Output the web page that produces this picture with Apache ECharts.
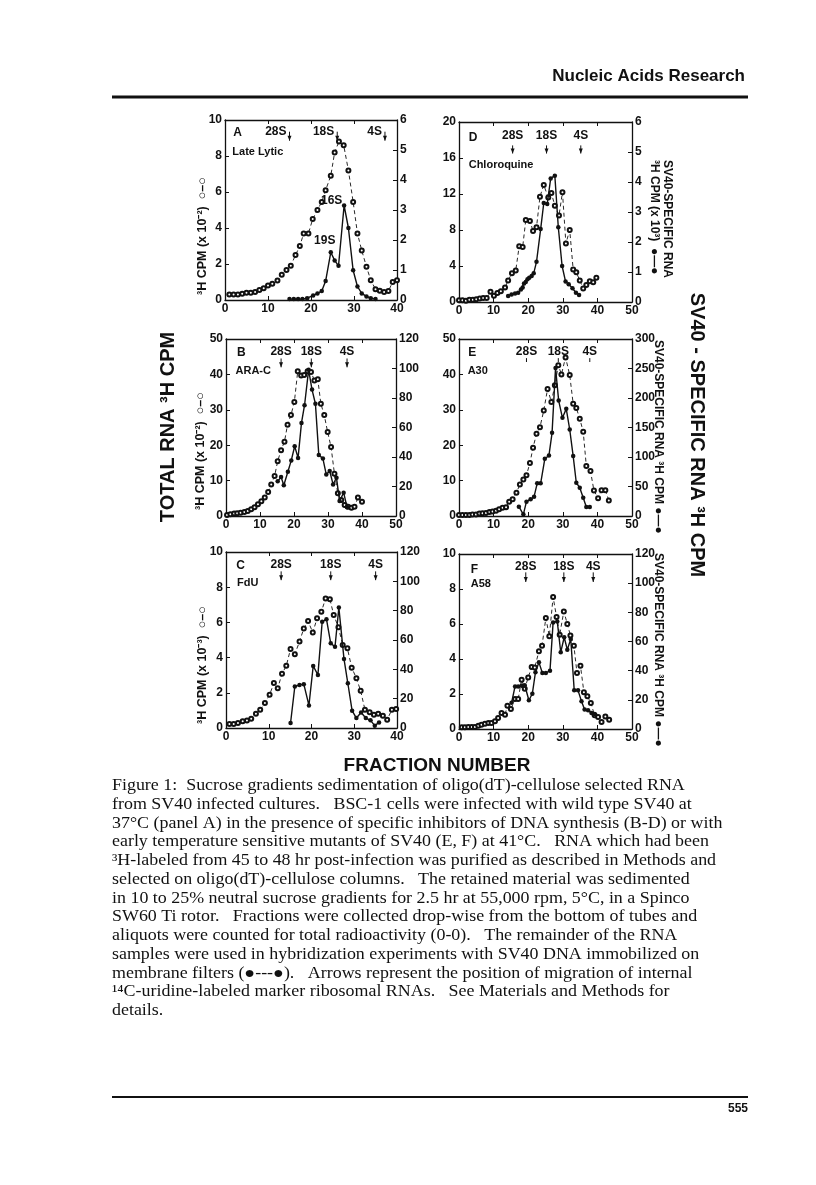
<!DOCTYPE html>
<html>
<head>
<meta charset="utf-8">
<title>Figure 1</title>
<script src="https://cdn.jsdelivr.net/npm/echarts@6/dist/echarts.min.js"></script>
<style>
  html, body { margin: 0; padding: 0; background: #fff; }
  #page { width: 816px; height: 1185px; }
</style>
</head>
<body>
<div id="page"></div>
<script>
var SANS = '"Liberation Sans", Arial, Helvetica, sans-serif';
var SERIF = '"Liberation Serif", "Times New Roman", serif';
var INK = '#111';

// ---- panel A : late lytic ----
var fracA_total = [1,2,3,4,5,6,7,8,9,10,11,12.2,13.2,14.3,15.3,16.4,17.4,18.3,19.4,20.4,21.5,22.5,23.4,24.6,25.5,26.5,27.6,28.7,29.8,30.8,31.8,32.9,33.9,35,36,37,38,39,40];
var cpmA_total  = [0.3,0.3,0.3,0.35,0.4,0.4,0.45,0.55,0.65,0.8,0.9,1.08,1.4,1.67,1.9,2.5,3.0,3.7,3.7,4.5,5.0,5.45,6.1,6.9,8.2,8.8,8.6,7.2,5.45,3.7,2.75,1.85,1.1,0.6,0.52,0.45,0.5,1.0,1.1];
var fracA_sv = [15,16,17,18,19.1,20.5,21.5,22.5,23.4,24.6,25.5,26.4,27.7,28.7,29.8,30.8,31.8,32.9,33.9,35];
var cpmA_sv  = [0.03,0.03,0.03,0.03,0.06,0.15,0.22,0.3,0.63,1.59,1.32,1.14,3.15,2.4,0.99,0.45,0.22,0.12,0.06,0.03];

// ---- panel D : chloroquine ----
var fracD_total = [0,1,2,3,4,5,6,7,8,9.1,10.1,11.1,12.1,13.3,14.2,15.3,16.4,17.4,18.4,19.3,20.5,21.4,22.4,23.4,24.5,25.8,26.7,27.7,28.9,29.9,30.9,32,33,33.9,34.9,35.9,36.8,37.8,38.8,39.7];
var cpmD_total  = [0.2,0.2,0.15,0.25,0.25,0.3,0.4,0.45,0.45,1.15,0.7,1.0,1.2,1.6,2.4,3.2,3.5,6.2,6.1,9.1,9.0,7.9,8.3,11.7,13.0,11.6,12.1,10.7,9.6,12.2,6.5,8.0,3.6,3.3,2.4,1.5,1.9,2.3,2.2,2.7];
var fracD_sv = [14.2,15.2,16.2,17.1,17.9,18.4,18.8,19.3,19.8,20.3,21,21.6,22.4,23.6,24.5,25.5,26.5,27.7,28.7,29.8,30.8,31.7,32.8,33.8,34.7];
var cpmD_sv  = [0.2,0.25,0.28,0.31,0.42,0.48,0.62,0.67,0.76,0.81,0.87,0.96,1.34,2.43,3.3,3.27,4.12,4.21,2.49,1.2,0.68,0.59,0.46,0.31,0.23];

// ---- panel B : ARA-C ----
var fracB_total = [0.3,1.3,2.4,3.3,4.3,5.4,6.4,7.4,8.4,9.4,10.4,11.4,12.4,13.3,14.3,15.2,16.2,17.2,18.1,19.1,20.1,21.1,22.1,23,24,25,26,27,27.9,28.9,29.9,30.9,31.9,32.9,33.9,34.9,35.9,36.9,37.8,38.8,40];
var cpmB_total  = [0.3,0.5,0.7,0.75,0.9,1.1,1.4,1.9,2.5,3.3,4.2,5.2,6.8,8.9,11.3,15.5,18.6,21,25.8,28.5,32.2,40.9,39.7,39.8,40.9,40.7,38.3,38.6,31.7,28.5,23.7,19.5,11.9,6.4,4.5,3.1,2.6,2.3,2.6,5.2,4.0];
var fracB_sv = [15.2,16.2,17,18.2,19.2,20.2,21.2,22.2,23.1,24.3,25.3,26.3,27.3,28.5,29.5,30.5,31.5,32.5,33.4,34.6,35.6];
var cpmB_sv  = [23.5,26.4,20.9,30,37.7,47.3,39.4,63.1,75.1,99.1,85.7,76.1,41.3,38.9,28.1,30.5,21.4,25.9,10.1,15.8,6.0];

// ---- panel E : A30 ----
var fracE_total = [0,1,2,3,3.9,4.9,5.9,6.8,7.8,8.8,9.7,10.7,11.6,12.6,13.6,14.5,15.5,16.6,17.6,18.6,19.5,20.5,21.4,22.4,23.4,24.5,25.6,26.7,27.7,28.7,29.6,30.8,32,33,33.9,34.9,35.9,36.8,38,39,40.2,41.2,42.3,43.3];
var cpmE_total  = [0.3,0.3,0.3,0.3,0.4,0.4,0.7,0.75,0.85,1.1,1.3,1.5,1.9,2.3,2.5,4.0,4.7,6.6,8.9,10.3,11.5,15.0,19.3,23.2,25.1,29.8,35.9,32.2,36.9,42.6,40,44.8,39.8,31.7,30.5,27.5,23.8,14.1,12.7,7.2,5.0,7.3,7.3,4.4];
var fracE_sv = [17.3,18.6,19.5,20.7,21.7,22.6,23.6,24.8,26,26.9,27.9,28.8,29.9,31,32,33,33.9,34.9,35.9,36.8,37.8];
var cpmE_sv  = [15.8,2.8,24.3,28.2,32.7,55.3,55.3,97,102.6,141,251,195.7,166.4,181.6,146.6,101.5,56.4,47.9,31,15.2,15.2];

// ---- panel C : FdU ----
var fracC_total = [0.8,1.8,2.8,3.9,4.9,5.9,7,8,9.1,10.2,11.2,12.1,13.1,14.1,15.1,16.1,17.2,18.2,19.2,20.3,21.3,22.3,23.3,24.3,25.2,26.3,27.3,28.4,29.4,30.5,31.5,32.5,33.6,34.6,35.6,36.7,37.7,38.8,39.8];
var cpmC_total  = [0.23,0.23,0.28,0.38,0.42,0.53,0.81,1.04,1.42,1.89,2.55,2.26,3.08,3.53,4.49,4.19,4.91,5.66,6.08,5.42,6.23,6.6,7.36,7.32,6.42,5.72,4.72,4.53,3.43,2.83,2.11,1.04,0.89,0.75,0.81,0.7,0.47,1.04,1.08];
var fracC_sv = [15.1,16.1,17.2,18.2,19.4,20.4,21.5,22.5,23.5,24.5,25.5,26.4,27.6,28.5,29.5,30.5,31.6,32.7,33.8,34.8,35.8];
var cpmC_sv  = [3.4,28.3,29.4,29.9,15.4,42.3,36.2,72.4,74.2,57.7,55.4,82.1,47.1,30.5,11.8,6.8,10.6,6.8,5.2,1.6,3.8];

// ---- panel F : A58 ----
var fracF_total = [0.8,1.7,2.7,3.7,4.6,5.6,6.5,7.5,8.5,9.4,10.4,11.3,12.3,13.3,14,15,16.2,17.1,18.1,19,20,21,21.9,23.1,24,25.1,26.1,27.2,28.2,29.1,30.3,31.3,32.2,33.2,34.1,35.1,36.1,37.1,38.1,39.2,40.2,41.2,42.3,43.4];
var cpmF_total  = [0.1,0.1,0.11,0.11,0.11,0.19,0.25,0.3,0.34,0.34,0.44,0.63,0.91,0.82,1.33,1.14,1.71,1.71,2.82,2.3,2.95,3.54,3.52,4.44,4.76,6.34,5.3,7.54,6.4,5.39,6.72,6.0,5.35,4.76,3.2,3.62,2.1,1.87,1.49,0.78,0.69,0.4,0.72,0.53];
var fracF_sv = [15.2,16.2,17.1,18.1,19,20.2,21.2,22.1,23.1,24.1,25.1,26.3,27.2,28.4,29.4,30.4,31.3,32.3,33.3,34.4,35.4,36.3,37.3,38.3,39.2];
var cpmF_sv  = [18,29.2,29.2,29.7,30,19.7,24.2,38.9,45.7,38.4,38.4,40,73.1,73.8,52.6,62.9,54.4,61.7,26.5,26.5,19,13.3,12.8,11,10.3];

// marker RNA positions (fraction) per panel
var markerNames = ['28S', '18S', '4S'];
var markersA = [15, 26.1, 37.2];
var markersD = [15.5, 25.3, 35.2];
var markersB = [16.2, 25.1, 35.6];
var markersE = [19.5, 28.7, 37.8];
var markersC = [12.9, 24.5, 35];
var markersF = [19.3, 30.3, 38.8];

// panel setup: axes ranges, layout box [left, top, width, height]
var panels = [
  {tag: 'A', sub: 'Late Lytic', tx: fracA_total, ty: cpmA_total, sx: fracA_sv, sy: cpmA_sv, marks: markersA,
   xMax: 40, yMax: 10, yStep: 2, rMax: 6, rStep: 1, box: [225, 120, 172, 180],
   labY: 9.35, arrow: [9.35, 8.85], textLeft: true, tagY: 9.3, subY: 8.2, tagX: 1.9, subX: 1.7},
  {tag: 'D', sub: 'Chloroquine', tx: fracD_total, ty: cpmD_total, sx: fracD_sv, sy: cpmD_sv, marks: markersD,
   xMax: 50, yMax: 20, yStep: 4, rMax: 6, rStep: 1, box: [459, 122, 173, 180],
   labY: 18.5, arrow: [17.4, 16.5], tagY: 18.3, subY: 15.2, tagX: 2.8, subX: 2.8},
  {tag: 'B', sub: 'ARA-C', tx: fracB_total, ty: cpmB_total, sx: fracB_sv, sy: cpmB_sv, marks: markersB,
   xMax: 50, yMax: 50, yStep: 10, rMax: 120, rStep: 20, box: [226, 339, 170, 177],
   labY: 46.3, arrow: [44.5, 42], tagY: 46.1, subY: 41.1, tagX: 3.2, subX: 2.8},
  {tag: 'E', sub: 'A30', tx: fracE_total, ty: cpmE_total, sx: fracE_sv, sy: cpmE_sv, marks: markersE,
   xMax: 50, yMax: 50, yStep: 10, rMax: 300, rStep: 50, box: [459, 339, 173, 177],
   labY: 46.3, arrow: [44.6, 43.5], tagY: 46.1, subY: 41, tagX: 2.7, subX: 2.5},
  {tag: 'C', sub: 'FdU', tx: fracC_total, ty: cpmC_total, sx: fracC_sv, sy: cpmC_sv, marks: markersC,
   xMax: 40, yMax: 10, yStep: 2, rMax: 120, rStep: 20, box: [226, 552, 171, 176],
   labY: 9.3, arrow: [8.9, 8.4], tagY: 9.2, subY: 8.25, tagX: 2.4, subX: 2.6},
  {tag: 'F', sub: 'A58', tx: fracF_total, ty: cpmF_total, sx: fracF_sv, sy: cpmF_sv, marks: markersF,
   xMax: 50, yMax: 10, yStep: 2, rMax: 120, rStep: 20, box: [459, 554, 173, 175],
   labY: 9.3, arrow: [8.95, 8.4], tagY: 9.1, subY: 8.3, tagX: 3.4, subX: 3.4}
];

function pairs(xs, ys) {
  var out = [];
  for (var i = 0; i < xs.length; i++) out.push([xs[i], ys[i]]);
  return out;
}

var tickFont = {fontFamily: SANS, fontWeight: 'bold', fontSize: 12, color: INK};
var axisLine = {show: true, onZero: false, lineStyle: {color: INK, width: 1.3}};
var axisTick = {show: true, inside: true, length: 4, lineStyle: {color: INK, width: 1}};

var grids = [], xAxes = [], yAxes = [], series = [];

panels.forEach(function (p, gi) {
  grids.push({left: p.box[0], top: p.box[1], width: p.box[2], height: p.box[3]});

  xAxes.push({gridIndex: gi, type: 'value', position: 'bottom', min: 0, max: p.xMax, interval: 10,
    axisLine: axisLine, axisTick: axisTick, splitLine: {show: false},
    axisLabel: Object.assign({margin: 3}, tickFont)});
  xAxes.push({gridIndex: gi, type: 'value', position: 'top', min: 0, max: p.xMax, interval: 10,
    axisLine: axisLine, axisTick: axisTick, splitLine: {show: false}, axisLabel: {show: false}});

  yAxes.push({gridIndex: gi, type: 'value', position: 'left', min: 0, max: p.yMax, interval: p.yStep,
    axisLine: axisLine, axisTick: axisTick, splitLine: {show: false},
    axisLabel: Object.assign({margin: 3}, tickFont)});
  yAxes.push({gridIndex: gi, type: 'value', position: 'right', min: 0, max: p.rMax, interval: p.rStep,
    axisLine: axisLine, axisTick: axisTick, splitLine: {show: false},
    axisLabel: Object.assign({margin: 3}, tickFont)});

  // total RNA: open circles, dashed
  series.push({type: 'line', xAxisIndex: 2 * gi, yAxisIndex: 2 * gi, data: pairs(p.tx, p.ty),
    symbol: 'emptyCircle', symbolSize: 4, showAllSymbol: true,
    lineStyle: {color: INK, width: 0.9, type: [4, 3]},
    itemStyle: {color: INK, borderWidth: 0.8}, z: 3});
  // SV40-specific RNA: filled circles, solid
  series.push({type: 'line', xAxisIndex: 2 * gi, yAxisIndex: 2 * gi + 1, data: pairs(p.sx, p.sy),
    symbol: 'circle', symbolSize: 4.5, showAllSymbol: true,
    lineStyle: {color: INK, width: 1.4},
    itemStyle: {color: INK}, z: 4});
});

var chart = echarts.init(document.getElementById('page'));
chart.setOption({
  animation: false,
  backgroundColor: '#fff',
  grid: grids,
  xAxis: xAxes,
  yAxis: yAxes,
  series: series
});

// ---- text and decorations ----
function txt(s, x, y, o) {
  o = o || {};
  var al = o.align || 'center', va = o.va || 'middle';
  return {type: 'text', x: x, y: y, rotation: o.rot || 0, scaleX: o.sx || 1, silent: true, z: 100,
    style: {text: s, fill: INK, font: o.font || ('bold 12px ' + SANS),
      align: al, textAlign: al, verticalAlign: va, textVerticalAlign: va}};
}
function seg(x1, y1, x2, y2, w) {
  return {type: 'line', silent: true, z: 100, shape: {x1: x1, y1: y1, x2: x2, y2: y2},
    style: {stroke: INK, lineWidth: w || 1}};
}
function head(x, y) {
  return {type: 'polygon', silent: true, z: 100,
    shape: {points: [[x - 2, y - 5], [x + 2, y - 5], [x, y]]}, style: {fill: INK}};
}

var g = [];
panels.forEach(function (p, gi) {
  function px(x, y) { return chart.convertToPixel({xAxisIndex: 2 * gi, yAxisIndex: 2 * gi}, [x, y]); }
  var a = px(p.tagX, p.tagY);
  g.push(txt(p.tag, a[0], a[1], {align: 'left'}));
  var b = px(p.subX, p.subY);
  g.push(txt(p.sub, b[0], b[1], {align: 'left', font: 'bold 11px ' + SANS}));
  p.marks.forEach(function (m, k) {
    var top = px(m, p.arrow[0]), bot = px(m, p.arrow[1]);
    var t = px(m, p.labY);
    if (p.textLeft) {
      g.push(txt(markerNames[k], t[0] - 3, t[1], {align: 'right'}));
    } else {
      g.push(txt(markerNames[k], t[0], t[1]));
    }
    g.push(seg(top[0], top[1], bot[0], bot[1], 1));
    if (p.tag !== 'E') g.push(head(bot[0], bot[1]));
  });
  if (p.tag === 'A') {
    var s16 = px(24.8, 5.5), s19 = px(23.2, 3.3);
    g.push(txt('16S', s16[0], s16[1]));
    g.push(txt('19S', s19[0], s19[1]));
  }
});

// left axis titles (bottom-to-top)
var leftSym = '  \u25cb\u2013\u25cb';
var leftFont = 'bold 12.5px ' + SANS;
g.push(txt('\u00b3H CPM (x 10\u207b\u00b2)' + leftSym, 203, 295, {align: 'left', rot: Math.PI / 2, font: leftFont}));
g.push(txt('\u00b3H CPM (x 10\u207b\u00b2)' + leftSym, 201, 510, {align: 'left', rot: Math.PI / 2, font: leftFont}));
g.push(txt('\u00b3H CPM (x 10\u207b\u00b3)' + leftSym, 203, 724, {align: 'left', rot: Math.PI / 2, font: leftFont}));

// right axis titles (top-to-bottom)
g.push(txt('SV40-SPECIFIC RNA', 667, 160, {align: 'left', rot: -Math.PI / 2}));
g.push(txt('\u00b3H CPM (x 10\u00b3)  \u25cf\u2014\u25cf', 654, 160, {align: 'left', rot: -Math.PI / 2}));
g.push(txt('SV40-SPECIFIC RNA \u00b3H CPM \u25cf\u2014\u25cf', 658, 340, {align: 'left', rot: -Math.PI / 2}));
g.push(txt('SV40-SPECIFIC RNA \u00b3H CPM \u25cf\u2014\u25cf', 658, 553, {align: 'left', rot: -Math.PI / 2}));

// overall labels
g.push(txt('TOTAL RNA \u00b3H CPM', 168, 427, {rot: Math.PI / 2, font: 'bold 20px ' + SANS}));
g.push(txt('SV40 - SPECIFIC RNA \u00b3H CPM', 697, 435, {rot: -Math.PI / 2, font: 'bold 20px ' + SANS}));
g.push(txt('FRACTION NUMBER', 437, 766, {font: 'bold 19px ' + SANS}));

// page header and rules
g.push(txt('Nucleic Acids Research', 745, 76, {align: 'right', font: 'bold 17px ' + SANS}));
g.push(seg(112, 97, 748, 97, 3));
g.push(seg(112, 1097, 748, 1097, 2));
g.push(txt('555', 748, 1109, {align: 'right', font: 'bold 12px ' + SANS}));

// caption
var caption = [
  'Figure 1:  Sucrose gradients sedimentation of oligo(dT)-cellulose selected RNA',
  'from SV40 infected cultures.   BSC-1 cells were infected with wild type SV40 at',
  '37\u00b0C (panel A) in the presence of specific inhibitors of DNA synthesis (B-D) or with',
  'early temperature sensitive mutants of SV40 (E, F) at 41\u00b0C.   RNA which had been',
  '\u00b3H-labeled from 45 to 48 hr post-infection was purified as described in Methods and',
  'selected on oligo(dT)-cellulose columns.   The retained material was sedimented',
  'in 10 to 25% neutral sucrose gradients for 2.5 hr at 55,000 rpm, 5\u00b0C, in a Spinco',
  'SW60 Ti rotor.   Fractions were collected drop-wise from the bottom of tubes and',
  'aliquots were counted for total radioactivity (0-0).   The remainder of the RNA',
  'samples were used in hybridization experiments with SV40 DNA immobilized on',
  'membrane filters (\u25cf---\u25cf).   Arrows represent the position of migration of internal',
  '\u00b9\u2074C-uridine-labeled marker ribosomal RNAs.   See Materials and Methods for',
  'details.'
];
caption.forEach(function (line, i) {
  g.push(txt(line, 112, 786 + i * 18.75, {align: 'left', font: '16px ' + SERIF, sx: 1.12}));
});

chart.setOption({graphic: {elements: g}});
</script>
</body>
</html>
